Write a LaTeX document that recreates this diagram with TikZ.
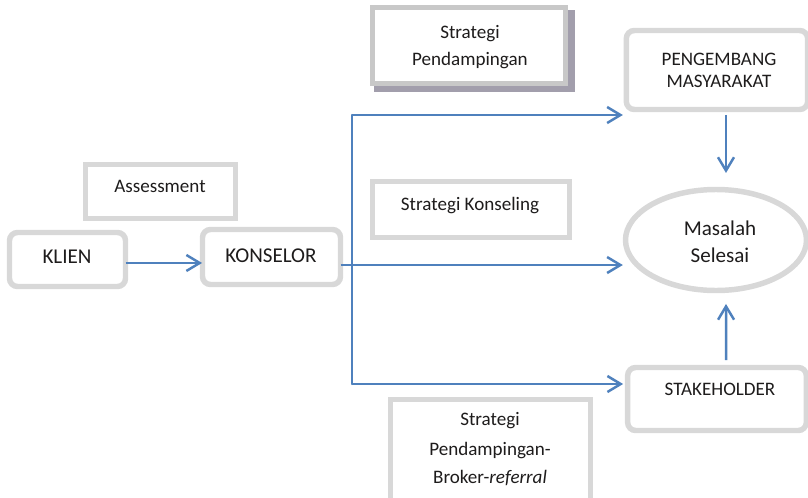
\documentclass[tikz,border=0pt]{standalone}
\usepackage{fontspec}
\setmainfont{Carlito}
\usetikzlibrary{arrows.meta,shapes.geometric}
\definecolor{bordergray}{RGB}{216,216,216}
\definecolor{borderdark}{RGB}{200,200,200}
\definecolor{shadowgray}{RGB}{162,158,172}
\definecolor{arrowblue}{RGB}{79,129,189}
\definecolor{textgray}{RGB}{30,28,28}
\begin{document}
\begin{tikzpicture}[x=0.75pt,y=-0.75pt,
  box/.style={draw=bordergray,line width=4.1pt,fill=white,inner sep=0pt,outer sep=0pt},
  rbox/.style={box,rounded corners=6pt},
  ebox/.style={box,ellipse},
  lbl/.style={anchor=base,inner sep=0pt,text=textgray,font=\fontsize{14.3}{17}\selectfont},
  big/.style={lbl,font=\fontsize{15.8}{19}\selectfont},
  conn/.style={draw=arrowblue,line width=1.85pt},
  arr/.style={conn,-{Straight Barb[length=10pt,width=12pt,line width=1.85pt]}}
]
\clip (0,0) rectangle (808,497);
\fill[white] (0,0) rectangle (808,497);

% shadow of the top strategy box
\fill[shadowgray] (374,10) rectangle (575,92);

% boxes
\node[box,draw=borderdark,minimum width=144.75pt,minimum height=57pt] (sp) at (469,45.5) {};
\node[rbox,minimum width=136pt,minimum height=59.25pt] (peng) at (717,70) {};
\node[ebox,minimum width=135.75pt,minimum height=75.75pt] (ell) at (716,240) {};
\node[rbox,minimum width=134pt,minimum height=47.25pt] (stake) at (717,399) {};
\node[box,minimum width=150pt,minimum height=78.75pt] (spb) at (490.5,452) {};
\node[box,minimum width=147.75pt,minimum height=42pt] (sk) at (471,209.5) {};
\node[box,minimum width=112.5pt,minimum height=40.5pt] (ass) at (160.5,191.5) {};
\node[rbox,minimum width=87pt,minimum height=40.5pt] (klien) at (67.5,259.5) {};
\node[rbox,minimum width=103.5pt,minimum height=41.25pt] (kons) at (271.5,257) {};

% texts
\node[lbl] (sp1) at (470,38) {Strategi};
\node[lbl] (sp2) at (470,65) {Pendampingan};
\node[lbl] (pe1) at (719,65) {PENGEMBANG};
\node[lbl] (pe2) at (719,87) {MASYARAKAT};
\node[big] (ms1) at (720,235) {Masalah};
\node[big] (ms2) at (720,262) {Selesai};
\node[lbl] (st1) at (720,395) {STAKEHOLDER};
\node[lbl] (sb1) at (490,425) {Strategi};
\node[lbl] (sb2) at (490,455) {Pendampingan-};
\node[lbl] (sb3) at (490,483) {Broker-\textit{referral}};
\node[lbl] (sk1) at (470,210) {Strategi Konseling};
\node[lbl] (as1) at (160,192) {Assessment};
\node[big] (kl1) at (67,263) {KLIEN};
\node[big] (ko1) at (271,262) {KONSELOR};

% connectors
\coordinate (bt) at (352,115);
\coordinate (bb) at (352,384);
\draw[arr] ([yshift=-2.6pt]klien.east) -- ([yshift=-2.6pt,xshift=-0.3pt]klien.east -| kons.west);
\draw[arr] ([yshift=-6pt]kons.east) -- ([yshift=-6pt,xshift=-2pt]kons.east -| ell.west);
\draw[conn,line cap=round,line join=round] (bt) -- (bb);
\draw[arr] (bt) -- ([xshift=-2.6pt]bt -| peng.west);
\draw[arr] (bb) -- ([xshift=-3.4pt]bb -| stake.west);
\draw[arr] ([xshift=6.75pt,yshift=-4.1pt]peng.south) -- ([xshift=7.5pt,yshift=12.4pt]ell.north);
\draw[arr] ([xshift=6.9pt,yshift=5.6pt]stake.north) -- ([xshift=7.5pt,yshift=-10.1pt]ell.south);
\end{tikzpicture}
\end{document}
